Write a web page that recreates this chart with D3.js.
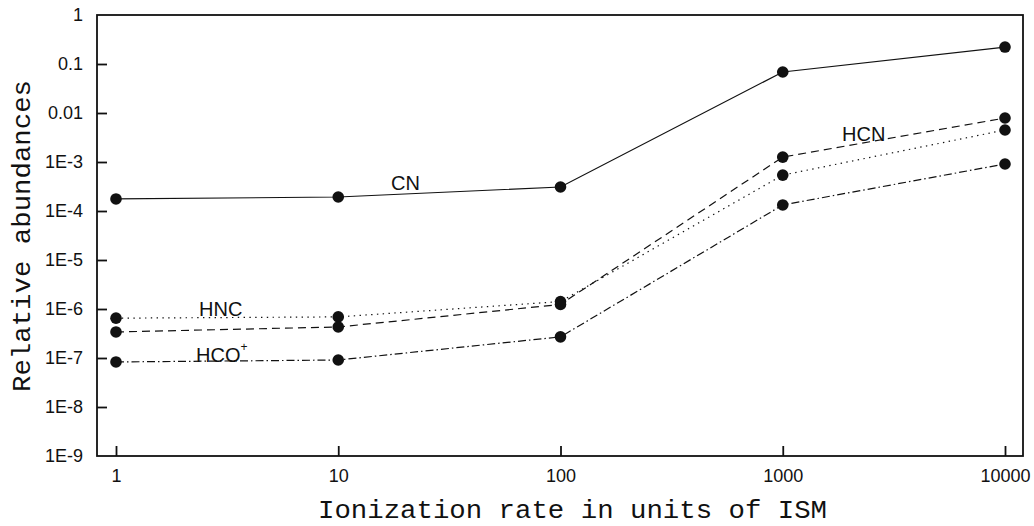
<!DOCTYPE html>
<html>
<head>
<meta charset="utf-8">
<script src="https://cdn.jsdelivr.net/npm/d3@7"></script>
<style>
  html, body { margin: 0; padding: 0; background: #fff; }
  svg { display: block; }
</style>
</head>
<body>
<svg id="chart" width="1034" height="526"></svg>
<script>
// ---- data ----
const ionization = [1, 10, 100, 1000, 10000];
const xTickLabels = ["1", "10", "100", "1000", "10000"];
const yTickValues = [1, 0.1, 0.01, 1e-3, 1e-4, 1e-5, 1e-6, 1e-7, 1e-8, 1e-9];
const yTickLabels = ["1", "0.1", "0.01", "1E-3", "1E-4", "1E-5", "1E-6", "1E-7", "1E-8", "1E-9"];
const cnValues   = [1.76e-4, 1.93e-4, 3.09e-4, 0.0687, 0.222];
const hncValues  = [6.5e-7, 6.9e-7, 1.42e-6, 5.4e-4, 4.5e-3];
const hcnValues  = [3.4e-7, 4.3e-7, 1.24e-6, 1.26e-3, 7.9e-3];
const hcopValues = [8.3e-8, 9.1e-8, 2.7e-7, 1.33e-4, 9.1e-4];

const seriesList = [
  { name: "CN",   values: cnValues,   dash: null },
  { name: "HNC",  values: hncValues,  dash: "1.4,4.4" },
  { name: "HCN",  values: hcnValues,  dash: "8,5" },
  { name: "HCO+", values: hcopValues, dash: "8,3,1.5,3" }
];

// ---- layout ----
const frame = { left: 97, right: 1023, top: 15, bottom: 456 };
const svg = d3.select("#chart");

const x = d3.scaleLog().domain([1, 10000]).range([116, 1005]);
const y = d3.scaleLog().domain([1e-9, 1]).range([frame.bottom, frame.top]);

const ink = "#111";

// frame
svg.append("rect")
  .attr("x", frame.left).attr("y", frame.top)
  .attr("width", frame.right - frame.left)
  .attr("height", frame.bottom - frame.top)
  .attr("fill", "none").attr("stroke", ink).attr("stroke-width", 1.8);

// y axis (ticks pointing inward)
const yAxis = d3.axisLeft(y)
  .tickValues(yTickValues)
  .tickFormat((d, i) => yTickLabels[i])
  .tickSizeInner(-10).tickSizeOuter(0).tickPadding(14);
const gy = svg.append("g").attr("transform", `translate(${frame.left},0)`).call(yAxis);
gy.select(".domain").remove();
gy.selectAll(".tick line").attr("stroke", ink).attr("stroke-width", 1.8);
gy.selectAll(".tick").filter(d => d === 1 || d === 1e-9).select("line").remove();
gy.selectAll(".tick text")
  .attr("font-family", "Liberation Sans, Arial, sans-serif")
  .attr("font-size", 18).attr("fill", ink);

// x axis (ticks pointing inward)
const xAxis = d3.axisBottom(x)
  .tickValues(ionization)
  .tickFormat((d, i) => xTickLabels[i])
  .tickSizeInner(-10).tickSizeOuter(0).tickPadding(13);
const gx = svg.append("g").attr("transform", `translate(0,${frame.bottom})`).call(xAxis);
gx.select(".domain").remove();
gx.selectAll(".tick line").attr("stroke", ink).attr("stroke-width", 1.8);
gx.selectAll(".tick text")
  .attr("font-family", "Liberation Sans, Arial, sans-serif")
  .attr("font-size", 18).attr("fill", ink);

// lines
const line = d3.line()
  .x((d, i) => x(ionization[i]))
  .y(d => y(d));

seriesList.forEach(s => {
  svg.append("path")
    .datum(s.values)
    .attr("d", line)
    .attr("fill", "none")
    .attr("stroke", ink)
    .attr("stroke-width", 1.2)
    .attr("stroke-dasharray", s.dash);
});

// markers
seriesList.forEach(s => {
  svg.append("g").selectAll("circle")
    .data(s.values)
    .join("circle")
    .attr("cx", (d, i) => x(ionization[i]))
    .attr("cy", d => y(d))
    .attr("r", 5.8)
    .attr("fill", ink);
});

// series labels
const labelFont = "Liberation Sans, Arial, sans-serif";
function label(txt, px, py) {
  return svg.append("text").attr("x", px).attr("y", py)
    .attr("font-family", labelFont).attr("font-size", 20).attr("fill", ink).text(txt);
}
label("CN", 391, 190);
label("HNC", 199, 316);
label("HCN", 842, 141);
const hco = label("HCO", 196, 362);
hco.append("tspan").attr("font-size", 12).attr("dy", -11).text("+");

// axis titles
svg.append("text")
  .attr("x", 318).attr("y", 518)
  .attr("textLength", 509).attr("lengthAdjust", "spacingAndGlyphs")
  .attr("font-family", "Liberation Mono, Courier New, monospace")
  .attr("font-size", 25).attr("fill", ink)
  .text("Ionization rate in units of ISM");

svg.append("text")
  .attr("transform", "translate(30,392) rotate(-90)")
  .attr("x", 0).attr("y", 0)
  .attr("textLength", 312).attr("lengthAdjust", "spacingAndGlyphs")
  .attr("font-family", "Liberation Mono, Courier New, monospace")
  .attr("font-size", 25).attr("fill", ink)
  .text("Relative abundances");
</script>
</body>
</html>
